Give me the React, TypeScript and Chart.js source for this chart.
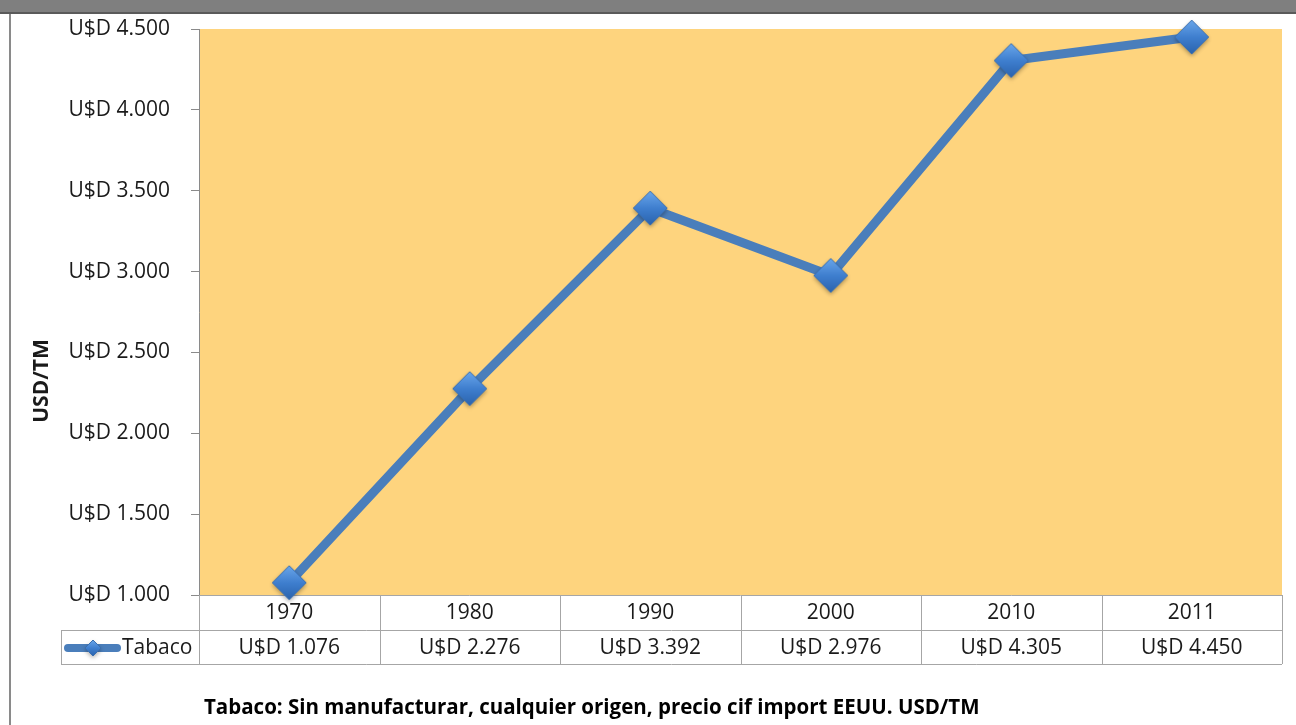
import React, { useEffect, useRef } from "react";
import { Chart, registerables } from "chart.js";

Chart.register(...registerables);

const categories = ["1970", "1980", "1990", "2000", "2010", "2011"];
const tabacoValues = [1076, 2276, 3392, 2976, 4305, 4450];
const seriesName = "Tabaco";
const yMin = 1000;
const yMax = 4500;
const yStep = 500;
const yAxisTitle = "USD/TM";
const footnote = "Tabaco: Sin manufacturar, cualquier origen, precio cif import EEUU. USD/TM";

const FONT = "'Open Sans', 'Noto Sans', sans-serif";

function fmt(v: number): string {
  const n = Math.round(v);
  const th = Math.floor(n / 1000);
  const rest = n % 1000;
  const s = th > 0 ? `${th}.${String(rest).padStart(3, "0")}` : String(rest);
  return `U$D ${s}`;
}

function makeDiamond(r: number): HTMLCanvasElement {
  const pad = 6;
  const size = r * 2 + pad * 2;
  const c = document.createElement("canvas");
  c.width = size;
  c.height = size;
  const ctx = c.getContext("2d")!;
  const cx = size / 2;
  const cy = size / 2;
  ctx.save();
  ctx.shadowColor = "rgba(0,0,0,0.35)";
  ctx.shadowBlur = 4;
  ctx.shadowOffsetY = 2;
  ctx.beginPath();
  ctx.moveTo(cx, cy - r);
  ctx.lineTo(cx + r, cy);
  ctx.lineTo(cx, cy + r);
  ctx.lineTo(cx - r, cy);
  ctx.closePath();
  const g = ctx.createLinearGradient(0, cy - r, 0, cy + r);
  g.addColorStop(0, "#6aa6ea");
  g.addColorStop(0.5, "#3f7fcf");
  g.addColorStop(1, "#2a63ad");
  ctx.fillStyle = g;
  ctx.fill();
  ctx.restore();
  ctx.beginPath();
  ctx.moveTo(cx, cy - r);
  ctx.lineTo(cx + r, cy);
  ctx.lineTo(cx, cy + r);
  ctx.lineTo(cx - r, cy);
  ctx.closePath();
  ctx.strokeStyle = "#3a6fb0";
  ctx.lineWidth = 1;
  ctx.stroke();
  return c;
}

const decorPlugin = {
  id: "decor",
  beforeDraw(chart: any) {
    const { ctx, chartArea: a, width, height } = chart;
    ctx.save();
    ctx.fillStyle = "#ffffff";
    ctx.fillRect(0, 0, width, height);
    ctx.fillStyle = "#7f7f7f";
    ctx.fillRect(0, 0, width, 13);
    ctx.fillStyle = "#5a5a5a";
    ctx.fillRect(0, 12, width, 2);
    ctx.fillStyle = "#8a8a8a";
    ctx.fillRect(9, 14, 2, height - 14);
    ctx.fillStyle = "#fed47e";
    ctx.fillRect(a.left, a.top, a.right - a.left, a.bottom - a.top);
    ctx.restore();
  },
  beforeDatasetsDraw(chart: any) {
    const { ctx, chartArea: a, scales } = chart;
    const x = scales.x;
    const n = categories.length;
    const colW = (a.right - a.left) / n;
    const r1t = a.bottom;
    const r1b = a.bottom + 35;
    const r2b = a.bottom + 69;
    const legL = 61;
    ctx.save();
    ctx.strokeStyle = "#a6a6a6";
    ctx.lineWidth = 1;
    const hl = (x0: number, x1: number, y: number) => {
      ctx.beginPath();
      ctx.moveTo(x0, Math.round(y) + 0.5);
      ctx.lineTo(x1, Math.round(y) + 0.5);
      ctx.stroke();
    };
    const vl = (xx: number, y0: number, y1: number) => {
      ctx.beginPath();
      ctx.moveTo(Math.round(xx) + 0.5, y0);
      ctx.lineTo(Math.round(xx) + 0.5, y1);
      ctx.stroke();
    };
    hl(a.left, a.right, r1t);
    hl(legL, a.right, r1b);
    hl(legL, a.right, r2b);
    vl(legL, r1b, r2b);
    for (let i = 0; i <= n; i++) {
      vl(a.left + i * colW, r1t, r2b);
    }
    ctx.fillStyle = "#1a1a1a";
    ctx.font = `21px ${FONT}`;
    ctx.textAlign = "center";
    ctx.textBaseline = "middle";
    categories.forEach((c, i) => {
      const cx = x.getPixelForValue(i);
      ctx.fillText(c, cx, (r1t + r1b) / 2 + 1);
      ctx.fillText(fmt(tabacoValues[i]), cx, (r1b + r2b) / 2 + 1);
    });
    const ly = (r1b + r2b) / 2 + 1;
    ctx.strokeStyle = "#4a7ebb";
    ctx.lineWidth = 8;
    ctx.lineCap = "round";
    ctx.beginPath();
    ctx.moveTo(68, ly);
    ctx.lineTo(117, ly);
    ctx.stroke();
    const d = makeDiamond(8);
    ctx.drawImage(d, 93 - d.width / 2, ly - d.height / 2);
    ctx.textAlign = "left";
    ctx.fillStyle = "#1a1a1a";
    ctx.fillText(seriesName, 122, ly);
    ctx.save();
    ctx.translate(42, 381);
    ctx.rotate(-Math.PI / 2);
    ctx.font = `bold 21px ${FONT}`;
    ctx.textAlign = "center";
    ctx.textBaseline = "middle";
    ctx.fillText(yAxisTitle, 0, 0);
    ctx.restore();
    ctx.font = `bold 20.5px ${FONT}`;
    ctx.textAlign = "left";
    ctx.textBaseline = "middle";
    ctx.fillStyle = "#000000";
    ctx.fillText(footnote, 204, 708);
    ctx.restore();
  },
};

export default function App() {
  const ref = useRef<HTMLCanvasElement | null>(null);
  useEffect(() => {
    document.body.style.margin = "0";
    if (!ref.current) return;
    const marker = makeDiamond(17);
    const chart = new Chart(ref.current, {
      type: "line",
      data: {
        labels: categories,
        datasets: [
          {
            label: seriesName,
            data: tabacoValues,
            borderColor: "#4a7ebb",
            borderWidth: 9,
            pointStyle: marker as any,
            pointRadius: 17,
            pointHoverRadius: 17,
            tension: 0,
            clip: false as any,
          },
        ],
      },
      options: {
        responsive: false,
        animation: false,
        events: [],
        layout: { autoPadding: false, padding: { left: 0, right: 14, top: 29, bottom: 130 } },
        plugins: { legend: { display: false }, tooltip: { enabled: false } },
        scales: {
          x: { type: "category", display: false, offset: true },
          y: {
            min: yMin,
            max: yMax,
            afterFit: (s: any) => {
              s.width = 199;
              s.paddingTop = 0;
              s.paddingBottom = 0;
            },
            ticks: {
              stepSize: yStep,
              padding: 21,
              color: "#1a1a1a",
              font: { family: FONT, size: 21 },
              callback: (v: any) => fmt(Number(v)),
            },
            grid: {
              drawOnChartArea: false,
              drawTicks: true,
              tickLength: 8,
              color: "#8a8a8a",
            },
            border: { display: true, color: "#8a8a8a", width: 1 },
          },
        },
      },
      plugins: [decorPlugin],
    });
    return () => chart.destroy();
  }, []);
  return (
    <div style={{ position: "fixed", left: 0, top: 0, width: 1296, height: 725 }}>
      <canvas ref={ref} width={1296} height={725} />
    </div>
  );
}
